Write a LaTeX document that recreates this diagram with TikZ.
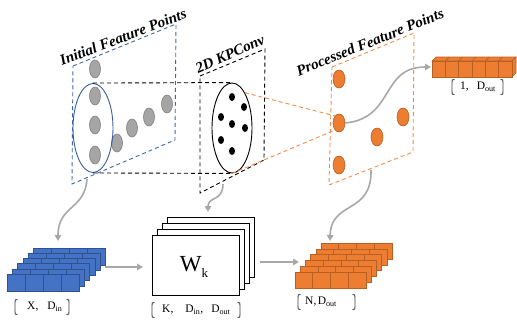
\documentclass[tikz,border=0pt]{standalone}
\usepackage{fontspec}
\setmainfont{Liberation Serif}
\usetikzlibrary{shapes.geometric,arrows.meta}
\definecolor{planeblue}{HTML}{3E66AA}
\definecolor{ellblue}{HTML}{3A5FA0}
\definecolor{ptgray}{HTML}{A5A5A5}
\definecolor{ptgrayedge}{HTML}{7F7F7F}
\definecolor{myorange}{HTML}{ED7D31}
\definecolor{orangeedge}{HTML}{B85F24}
\definecolor{planeorange}{HTML}{F08C48}
\definecolor{cellblue}{HTML}{4472C4}
\definecolor{cellblueedge}{HTML}{2F528F}
\definecolor{arrgray}{HTML}{A8A8A8}
\definecolor{brkgray}{HTML}{404040}
\tikzset{
  bluedash/.style={draw=planeblue, line width=0.9pt, dash pattern=on 4pt off 3pt},
  blackdash/.style={draw=black, line width=0.9pt, dash pattern=on 4pt off 3pt},
  orangedash/.style={draw=planeorange, line width=0.9pt, dash pattern=on 4pt off 3pt},
  gpt/.style={ellipse, fill=ptgray, draw=ptgrayedge, line width=0.6pt, minimum width=11pt, minimum height=18pt, inner sep=0},
  opt/.style={ellipse, fill=myorange, draw=orangeedge, line width=0.6pt, minimum width=12pt, minimum height=18pt, inner sep=0},
  kdot/.style={ellipse, fill=black, minimum width=6pt, minimum height=8pt, inner sep=0},
  titletxt/.style={font=\fontsize{15}{17}\selectfont\bfseries\itshape, inner sep=0},
  dimtxt/.style={font=\fontsize{11.5}{13}\selectfont, inner sep=0, anchor=west},
  garrow/.style={draw=arrgray, line width=1.6pt, -{Triangle[length=6pt,width=6.5pt]}},
  bcell/.style={fill=cellblue, draw=cellblueedge, line width=0.6pt},
  ocell/.style={fill=myorange, draw=orangeedge, line width=0.6pt},
  wkbox/.style={fill=white, draw=black, line width=1pt},
  brk/.style={draw=brkgray, line width=0.9pt},
  lbr/.pic={\draw[brk] (2.5,-7.5) .. controls (0,-7.5) .. (0,-4.5) -- (0,4.5) .. controls (0,7.5) .. (2.5,7.5);},
  rbr/.pic={\draw[brk] (-2.5,-7.5) .. controls (0,-7.5) .. (0,-4.5) -- (0,4.5) .. controls (0,7.5) .. (-2.5,7.5);}
}
\begin{document}
\begin{tikzpicture}[x=1pt,y=-1pt]
\useasboundingbox (0,0) rectangle (517,325);

% planes
\draw[bluedash] (73,66) -- (176,24) -- (175,140) -- (72,184) -- cycle;
\draw[blackdash] (200,76) -- (265,49) -- (264,160) -- (200,193) -- cycle;
\draw[orangedash] (332,67) -- (414,33) -- (413,152) -- (329,185) -- cycle;

% gray points
\foreach \n/\x/\y in {g1/95/69, g2/95/96, g3/95/125, g4/95/155, g5/117/143, g6/132/128, g7/149/117, g8/167/104}
  \node[gpt] (\n) at (\x,\y) {};

% ellipses
\node[draw=ellblue, line width=0.9pt, ellipse, minimum width=40pt, minimum height=89pt, inner sep=0] (be) at (93,128) {};
\node[draw=black, line width=0.9pt, ellipse, minimum width=40pt, minimum height=90pt, inner sep=0] (ke) at (232,128) {};

% kernel points
\foreach \n/\x/\y in {k1/232/97, k2/244/107, k3/221/117, k4/232/124, k5/245/128, k6/221/140, k7/232/151}
  \node[kdot] (\n) at (\x,\y) {};

% orange points
\foreach \n/\x/\y in {o1/339/79, o2/339/123, o3/339/165, o4/377/137, o5/403/117}
  \node[opt] (\n) at (\x,\y) {};

% cylinder lines
\draw[blackdash] (be.north) -- (ke.north);
\draw[blackdash] (be.south) -- (ke.south);
% cone lines
\draw[orangedash] (ke.70) -- (o2.120);
\draw[orangedash] (ke.south) -- (o2.240);

% titles
\node[titletxt, rotate=21] (t1) at (123,37) {Initial Feature Points};
\node[titletxt, rotate=24] (t2) at (230,54) {2D KPConv};
\node[titletxt, rotate=22] (t3) at (370,42) {Processed Feature Points};

% orange bar (1, Dout)
\draw[ocell] (432,61) -- (436,57) -- (516,57) -- (512,61) -- cycle;
\draw[ocell] (512,61) -- (516,57) -- (516,73) -- (512,77) -- cycle;
\draw[ocell] (432,61) rectangle (512,77);
\foreach \k in {1,...,5} {
  \draw[draw=orangeedge, line width=0.6pt] (432+13.33*\k,61) -- ++(0,16);
  \draw[draw=orangeedge, line width=0.6pt] (432+13.33*\k,61) -- ++(4,-4);
}
\coordinate (barw) at (431,67);
\node[dimtxt] (l1) at (460,87) {1,\hspace{8pt}D\textsubscript{out}};
\pic at (452,87) {lbr};
\pic at (503,87) {rbr};

% blue stack
\foreach \i in {5,4,...,0} {
  \begin{scope}[shift={(5.3*\i,-5.2*\i)}]
    \draw[bcell] (7,274) rectangle ++(72,17);
    \foreach \k in {1,2,3} \draw[draw=cellblueedge, line width=0.6pt] (7+18*\k,274) -- ++(0,17);
  \end{scope}
}
\coordinate (bstop) at (58,241);
\coordinate (bsright) at (105,267);
\node[dimtxt] (l2) at (27,307) {X,\hspace{9pt}D\textsubscript{in}};
\pic at (15,307) {lbr};
\pic at (69,307) {rbr};

% Wk stack
\foreach \i in {3,2,1} {
  \draw[wkbox] (152+5.3*\i,235-5.7*\i) rectangle ++(87,60);
}
\node[wkbox, minimum width=87pt, minimum height=60pt, inner sep=0] (wk) at (195.5,265) {};
\node[inner sep=0, font=\fontsize{23}{24}\selectfont] (wkt) at (194,267) {W\raisebox{-0.25em}{\fontsize{13}{14}\selectfont k}};
\coordinate (wktop) at (208,212);
\coordinate (wkright) at (260,262);
\node[dimtxt] (l3) at (162,310) {K,\hspace{12pt}D\textsubscript{in},\hspace{8pt}D\textsubscript{out}};
\pic at (152,310) {lbr};
\pic at (240,310) {rbr};

% orange stack
\foreach \i in {5,4,...,0} {
  \begin{scope}[shift={(5.2*\i,-5.8*\i)}]
    \draw[ocell] (295,272) rectangle ++(71,16);
    \foreach \k in {1,2,3} \draw[draw=orangeedge, line width=0.6pt] (295+17.75*\k,272) -- ++(0,16);
  \end{scope}
}
\coordinate (ostop) at (330,241);
\coordinate (osleft) at (299,262);
\node[dimtxt] (l4) at (305,302) {N,\hspace{1.5pt}D\textsubscript{out}};
\pic at (298,302) {lbr};
\pic at (355,302) {rbr};

% gray arrows
\coordinate (a1s) at (87,179);
\coordinate (a2s) at (223,184);
\coordinate (a3s) at (371,170);
\draw[garrow] (a1s) .. controls (85,210) and (58,205) .. (bstop);
\draw[garrow] (a2s) .. controls (223,202) and (208,196) .. (wktop);
\draw[garrow] (a3s) .. controls (372,215) and (331,200) .. (ostop);
\draw[garrow] (o2.east) .. controls (395,118) and (380,67) .. (barw);
\draw[garrow] (bsright) -- (143,267);
\draw[garrow] (wkright) -- (osleft);
\end{tikzpicture}
\end{document}
